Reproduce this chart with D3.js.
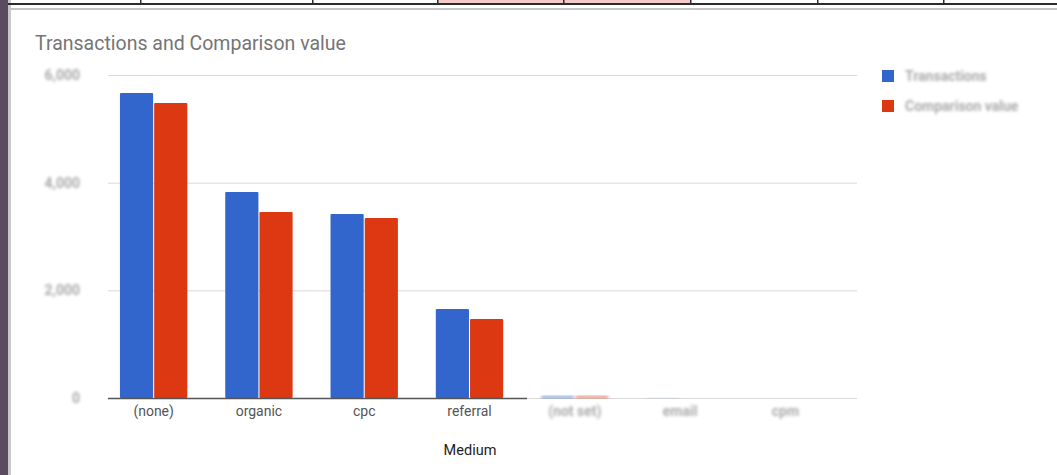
<!DOCTYPE html>
<html><head><meta charset="utf-8">
<script src="https://cdn.jsdelivr.net/npm/d3@7"></script>
<style>
html,body{margin:0;padding:0;background:#fff;}
svg{display:block;font-family:Roboto, "Liberation Sans", Arial, sans-serif;}
</style></head>
<body>
<svg id="chart" width="1057" height="475"></svg>
<script>
const categories = ["(none)", "organic", "cpc", "referral", "(not set)", "email", "cpm"];
const transactions = [5665, 3826, 3418, 1653, 30, 3, 1];
const comparison   = [5480, 3455, 3344, 1467, 30, 2, 1];
const seriesNames = ["Transactions", "Comparison value"];
const yTicks = [0, 2000, 4000, 6000];
const colors = ["#3366cc", "#dc3912"];
const blurredFrom = 4; // categories whose labels are blurred in the source

const svg = d3.select("#chart");
const defs = svg.append("defs");
defs.append("filter").attr("id","blur").attr("x","-20%").attr("y","-60%").attr("width","140%").attr("height","220%")
  .append("feGaussianBlur").attr("stdDeviation", 1.8);

// window chrome: left strip, top table row
svg.append("rect").attr("x",0).attr("y",0).attr("width",8).attr("height",475).attr("fill","#594c5f");
svg.append("rect").attr("x",8).attr("y",0).attr("width",3).attr("height",475).attr("fill","#c9c9c9");
svg.append("rect").attr("x",437).attr("y",0).attr("width",253).attr("height",4).attr("fill","#f2c9c6");
svg.append("rect").attr("x",8).attr("y",3).attr("width",1049).attr("height",2).attr("fill","#2b2b2b");
svg.append("rect").attr("x",8).attr("y",8).attr("width",1049).attr("height",2).attr("fill","#c4c4c4");
[140,312,437,563,690,817,943].forEach(x=>{
  svg.append("rect").attr("x",x).attr("y",0).attr("width",1.5).attr("height",4).attr("fill","#2b2b2b");
});

// scales
const x0 = d3.scaleBand().domain(categories).range([101, 838]).paddingInner(0.36).paddingOuter(0.18);
const x1 = d3.scaleBand().domain(seriesNames).range([0, x0.bandwidth()]).paddingInner(0.03);
const y = d3.scaleLinear().domain([0, 6000]).range([398, 75]);

// title
svg.append("text").attr("x",35).attr("y",50).attr("font-size",19.5).attr("fill","#757575")
  .text("Transactions and Comparison value");

// gridlines
const grid = svg.append("g").call(d3.axisLeft(y).tickValues(yTicks).tickSize(-749).tickFormat(""))
  .attr("transform","translate(108,0)");
grid.select(".domain").remove();
grid.selectAll("line").attr("stroke","#d9d9d9");

// y tick labels (blurred in source)
svg.append("g").attr("filter","url(#blur)").selectAll("text").data(yTicks).join("text")
  .attr("x",80).attr("y",d=>y(d)+5).attr("text-anchor","end").attr("font-size",14).attr("font-weight","bold")
  .attr("fill","#aaa")
  .text(d=>d3.format(",")(d));

// bars
const data = categories.map((c,i)=>({cat:c, vals:[transactions[i], comparison[i]]}));
const groups = svg.append("g").selectAll("g").data(data).join("g")
  .attr("transform",d=>`translate(${x0(d.cat)},0)`)
  .attr("filter",(d,i)=> i>=blurredFrom ? "url(#blur)" : null);
groups.selectAll("rect").data(d=>d.vals.map((v,k)=>({v,k}))).join("rect")
  .attr("x",d=>x1(seriesNames[d.k])).attr("width",x1.bandwidth())
  .attr("y",d=>y(d.v)).attr("height",d=>398-y(d.v))
  .attr("rx",1).attr("fill",d=>colors[d.k]);

// baseline
svg.append("line").attr("x1",108).attr("x2",527).attr("y1",398.5).attr("y2",398.5)
  .attr("stroke","#555").attr("stroke-width",1.5);
svg.append("line").attr("x1",527).attr("x2",857).attr("y1",399).attr("y2",399)
  .attr("stroke","#bbb").attr("stroke-width",5).attr("filter","url(#blur)");

// x axis labels
const xAxis = svg.append("g").attr("transform","translate(0,398)")
  .call(d3.axisBottom(x0).tickSize(0).tickPadding(8));
xAxis.select(".domain").remove();
xAxis.selectAll("text").attr("font-size",14).attr("font-family","Roboto, sans-serif")
  .attr("filter",(d,i)=> i>=blurredFrom ? "url(#blur)" : null)
  .attr("font-weight",(d,i)=> i>=blurredFrom ? "bold" : null)
  .attr("fill",(d,i)=> i>=blurredFrom ? "#aaa" : "#555");

// axis title
svg.append("text").attr("x",470).attr("y",455).attr("text-anchor","middle").attr("font-size",14.5)
  .attr("fill","#222").text("Medium");

// legend
const leg = svg.append("g").selectAll("g").data(seriesNames).join("g")
  .attr("transform",(d,i)=>`translate(882,${70+i*30})`);
leg.append("rect").attr("width",12).attr("height",12).attr("fill",(d,i)=>colors[i]);
leg.append("text").attr("x",23).attr("y",11).attr("font-size",14).attr("font-weight","bold").attr("fill","#aaa")
  .attr("filter","url(#blur)").text(d=>d);
</script>
</body></html>
